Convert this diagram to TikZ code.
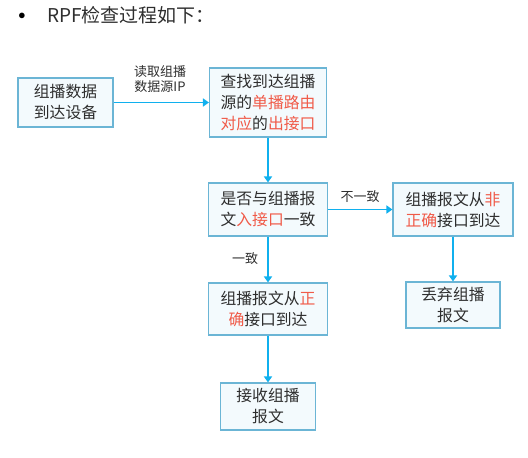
\documentclass[tikz,border=0pt]{standalone}
\usepackage{fontspec}
\setmainfont{Noto Sans CJK SC}
\usetikzlibrary{arrows.meta}
\definecolor{boxline}{HTML}{6BB5D5}
\definecolor{boxfill}{HTML}{F3FAFD}
\definecolor{flow}{HTML}{10B0EE}
\definecolor{hot}{HTML}{F05A48}
\definecolor{ink}{HTML}{2E2E2E}
\newcommand{\hl}[1]{\textcolor{hot}{#1}}
\begin{document}
\begin{tikzpicture}[x=1pt,y=-1pt,
  stepbox/.style={draw=boxline, line width=1.1pt, fill=boxfill, text=ink,
    align=center, inner sep=0pt, font=\fontsize{15.8}{21}\selectfont},
  flowarrow/.style={draw=flow, line width=1.8pt,
    -{Triangle[length=6pt,width=8pt]}},
  edgelabel/.style={text=ink, align=center, font=\fontsize{13}{15.5}\selectfont}]
\useasboundingbox (0,0) rectangle (528,458);
% heading
\node (dot) at (22,16) {\fontsize{14}{16}\selectfont$\bullet$};
\node[anchor=west, text=ink, inner sep=0pt, font=\fontsize{19}{22}\selectfont] (title) at (47,15) {RPF检查过程如下：};
% boxes
\node[stepbox, minimum width=95pt, minimum height=49pt] (arrive) at (65.5,102.5) {组播数据\\到达设备};
\node[stepbox, minimum width=117pt, minimum height=69pt] (lookup) at (268,102.5) {查找到达组播\\源的\hl{单播路由}\\\hl{对应}的\hl{出接口}};
\node[stepbox, minimum width=119pt, minimum height=53pt] (check) at (268,209.5) {是否与组播报\\文\hl{入接口}一致};
\node[stepbox, minimum width=120pt, minimum height=53pt] (wrong) at (453,209.5) {组播报文从\hl{非}\\\hl{正确}接口到达};
\node[stepbox, minimum width=119pt, minimum height=52pt] (right) at (268,309) {组播报文从\hl{正}\\\hl{确}接口到达};
\node[stepbox, minimum width=94pt, minimum height=46pt] (drop) at (453,305) {丢弃组播\\报文};
\node[stepbox, minimum width=95pt, minimum height=47pt] (accept) at (268,406.5) {接收组播\\报文};
% connectors
\draw[flowarrow] (arrive) -- (lookup);
\draw[flowarrow] (lookup) -- (check);
\draw[flowarrow] (check) -- (wrong);
\draw[flowarrow] (wrong) -- (drop);
\draw[flowarrow] (check) -- (right);
\draw[flowarrow] (right) -- (accept);
% connector labels
\node[edgelabel] (readsrc) at (160,79) {读取组播\\数据源IP};
\node[edgelabel] (nomatch) at (360,197) {不一致};
\node[edgelabel] (match) at (245,259) {一致};
\end{tikzpicture}
\end{document}
